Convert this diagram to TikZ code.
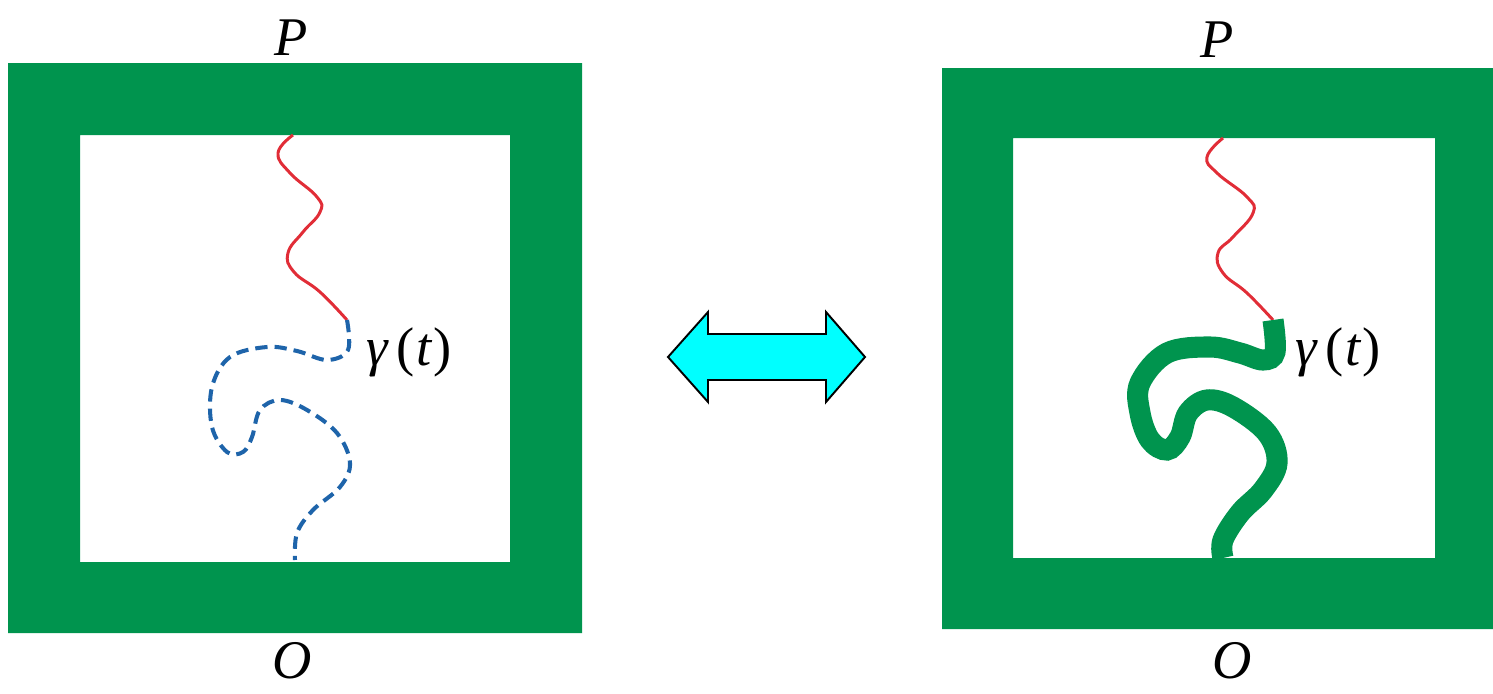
\documentclass[tikz,border=0pt]{standalone}
\usepackage{fontspec}
\setmainfont{Liberation Serif}
\definecolor{framegreen}{RGB}{0,148,78}
\definecolor{wavered}{RGB}{225,45,55}
\definecolor{pathblue}{RGB}{30,100,170}
\definecolor{arrowcyan}{RGB}{0,255,255}

\begin{document}
\begin{tikzpicture}[x=0.02cm, y=-0.02cm,
    frame/.style={fill=framegreen, even odd rule},
    lbl/.style={font=\fontsize{31}{36}\selectfont\itshape, inner sep=0pt},
    wave/.style={wavered, line width=1.7pt},
    dashpath/.style={pathblue, line width=2.3pt, dash pattern=on 7pt off 4pt},
    thickpath/.style={framegreen, line width=12pt}]
    \useasboundingbox (0,0) rectangle (1493,693);

    % left square
    \fill[frame] (8,63) rectangle (582,633) (80,135) rectangle (510,562);
    \node[lbl] (pL) at (291,38) {P};
    \node[lbl] (oL) at (292,661) {O};
    \draw[wave] plot[smooth, tension=0.75] coordinates {(293,135) (278,153) (290,173) (317,197) (320,212) (303,232) (288,253) (294,272) (320,292) (347,320)};
    \draw[dashpath] plot[smooth, tension=0.6] coordinates {(347,320) (348,350) (327,360) (297,351) (267,347) (230,357) (212,387) (212,427) (227,452) (243,452) (252,437) (260,410) (280,400) (307,410) (337,433) (350,463) (340,487) (313,510) (297,533) (295,560)};
    \node[lbl, anchor=west] (gL) at (366,352) {γ\,{\upshape(}\kern1pt t\kern1pt{\upshape)}};

    % right square
    \fill[frame] (942,68) rectangle (1493,629) (1013,138) rectangle (1435,558);
    \node[lbl] (pR) at (1217,40) {P};
    \node[lbl] (oR) at (1232,661) {O};
    \draw[wave] plot[smooth, tension=0.75] coordinates {(1223,138) (1207,157) (1217,173) (1247,197) (1253,213) (1233,237) (1218,253) (1223,273) (1247,293) (1273,320)};
    \draw[thickpath] plot[smooth, tension=0.6] coordinates {(1273,320) (1275,352) (1263,360) (1240,353) (1210,347) (1167,353) (1140,383) (1140,413) (1150,440) (1167,450) (1180,437) (1188,413) (1207,400) (1233,407) (1267,433) (1277,463) (1263,490) (1240,513) (1223,540) (1223,558)};
    \node[lbl, anchor=west] (gR) at (1295,352) {γ\,{\upshape(}\kern1pt t\kern1pt{\upshape)}};

    % double arrow
    \draw[fill=arrowcyan, line width=1.1pt] (668,357) -- (708,312) -- (708,334) -- (826,334) -- (826,312) -- (865,357)
        -- (826,402) -- (826,380) -- (708,380) -- (708,402) -- cycle;
\end{tikzpicture}
\end{document}
